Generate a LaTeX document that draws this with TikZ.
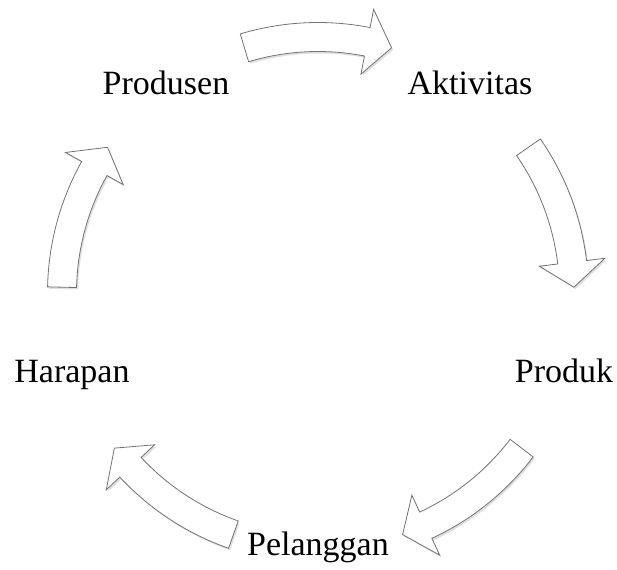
\documentclass[tikz,border=0pt]{standalone}
\usepackage{fontspec}
\setmainfont{Liberation Serif}
\usetikzlibrary{shadows}

\tikzset{
    cycarrow/.style={draw=black!55, line width=0.8pt, fill=white,
        drop shadow={opacity=0.25, shadow xshift=1.5pt, shadow yshift=-2pt}}
}

% curved block arrow on the cycle, #1 = angle of its middle
\newcommand{\cyclearrow}[1]{%
    \draw[cycarrow] ({#1+16.7}:270.5) arc[start angle={#1+16.7}, end angle={#1-11.1}, radius=270.5]
        -- ({#1-11.1}:289) -- ({#1-16.7}:256) -- ({#1-11.1}:223) -- ({#1-11.1}:241.5)
        arc[start angle={#1-11.1}, end angle={#1+16.7}, radius=241.5] -- cycle;}

\begin{document}
\begin{tikzpicture}[x=1pt, y=1pt, every node/.style={font=\fontsize{34}{40}\selectfont}]
    \useasboundingbox (-318,-276) rectangle (299,293);
    \coordinate (ctr) at (0,0);

    % Arrows round the cycle
    \cyclearrow{90}
    \cyclearrow{18}
    \cyclearrow{-54}
    \cyclearrow{-126}
    \cyclearrow{162}

    % Stages
    \node[anchor=base] (produsen) at (-152,198) {Produsen};
    \node[anchor=base] (aktivitas) at (152,198) {Aktivitas};
    \node[anchor=base] (produk) at (246,-90) {Produk};
    \node[anchor=base] (pelanggan) at (0,-262) {Pelanggan};
    \node[anchor=base] (harapan) at (-246,-90) {Harapan};
\end{tikzpicture}
\end{document}
